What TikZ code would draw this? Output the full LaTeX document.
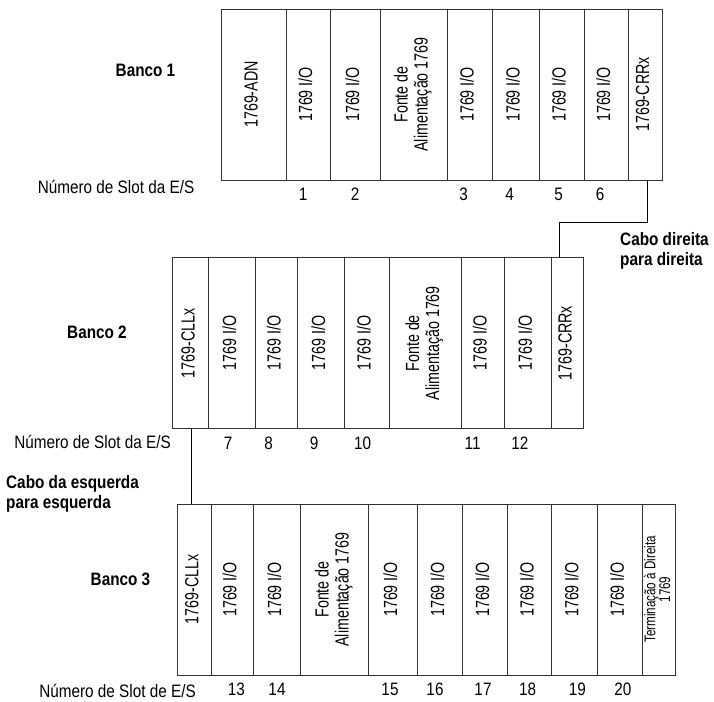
\documentclass[tikz,border=0pt]{standalone}
\usepackage{fontspec}
\setmainfont{Liberation Sans}[FakeStretch=0.85]
\newfontfamily\narrowfam{Liberation Sans}[FakeStretch=0.75]
\usepackage{tikz}
\usetikzlibrary{positioning}

\newcommand{\modfont}{\narrowfam\fontsize{19}{20}\selectfont}
\newcommand{\termfont}{\narrowfam\fontsize{15.5}{13}\selectfont}
\newcommand{\numfont}{\fontsize{18}{20}\selectfont}
\newcommand{\labfont}{\fontsize{18}{20}\selectfont}
\newcommand{\vlab}[1]{\rotatebox{90}{\begin{tabular}{@{}c@{}}#1\end{tabular}}}

\begin{document}
\begin{tikzpicture}[x=1pt,y=1pt,
    module/.style={draw=black!80,line width=0.8pt,minimum width=#1,minimum height=171pt,inner sep=0pt,outer sep=0pt,font=\modfont},
    slotno/.style={font=\numfont,inner sep=0pt,label distance=8pt,xshift=#1},
    slotno/.default=0pt,
    banklab/.style={font=\labfont\bfseries,inner sep=0pt},
    slotlab/.style={font=\labfont,inner sep=0pt},
    cablab/.style={font=\labfont\bfseries,align=left,anchor=west,inner sep=0pt},
    cable/.style={draw=black,line width=1pt}
  ]
    \useasboundingbox (0,0) rectangle (714,701);

    % Banco 1
    \node[module=65pt,anchor=north west] (adn) at (221,692) {\vlab{1769-ADN}};
    \node[module=44pt,right=0pt of adn,label={[slotno=-5pt]below:1}] (io1) {\vlab{1769 I/O}};
    \node[module=50pt,right=0pt of io1,label={[slotno]below:2}] (io2) {\vlab{1769 I/O}};
    \node[module=67pt,right=0pt of io2] (ps1) {\vlab{Fonte de\\Alimentação 1769}};
    \node[module=45pt,right=0pt of ps1,label={[slotno=-6pt]below:3}] (io3) {\vlab{1769 I/O}};
    \node[module=47pt,right=0pt of io3,label={[slotno=-6pt]below:4}] (io4) {\vlab{1769 I/O}};
    \node[module=45pt,right=0pt of io4,label={[slotno=-3pt]below:5}] (io5) {\vlab{1769 I/O}};
    \node[module=44pt,right=0pt of io5,label={[slotno=-6pt]below:6}] (io6) {\vlab{1769 I/O}};
    \node[module=34pt,right=0pt of io6] (crr1) {\vlab{1769-CRRx}};
    \node[banklab] (bank1) at (145.5,631) {Banco 1};
    \node[slotlab] (slot1) at (116,514) {Número de Slot da E/S};

    % Banco 2
    \node[module=36.4pt,anchor=north west] (cll2) at (172.3,443.3) {\vlab{1769-CLLx}};
    \node[module=47pt,right=0pt of cll2,label={[slotno=-4pt]below:7}] (io7) {\vlab{1769 I/O}};
    \node[module=42pt,right=0pt of io7,label={[slotno=-8pt]below:8}] (io8) {\vlab{1769 I/O}};
    \node[module=46.6pt,right=0pt of io8,label={[slotno=-7pt]below:9}] (io9) {\vlab{1769 I/O}};
    \node[module=44.7pt,right=0pt of io9,label={[slotno=-4pt]below:10}] (io10) {\vlab{1769 I/O}};
    \node[module=72pt,right=0pt of io10] (ps2) {\vlab{Fonte de\\Alimentação 1769}};
    \node[module=43.3pt,right=0pt of ps2,label={[slotno=-10pt]below:11}] (io11) {\vlab{1769 I/O}};
    \node[module=47pt,right=0pt of io11,label={[slotno=-8pt]below:12}] (io12) {\vlab{1769 I/O}};
    \node[module=32.4pt,right=0pt of io12] (crr2) {\vlab{1769-CRRx}};
    \node[banklab] (bank2) at (97,369) {Banco 2};
    \node[slotlab] (slot2) at (92.5,259) {Número de Slot da E/S};

    % Banco 3
    \node[module=34pt,anchor=north west] (cll3) at (177.3,197) {\vlab{1769-CLLx}};
    \node[module=42pt,right=0pt of cll3,label={[slotno=4pt]below:13}] (io13) {\vlab{1769 I/O}};
    \node[module=47.4pt,right=0pt of io13,label={[slotno]below:14}] (io14) {\vlab{1769 I/O}};
    \node[module=67.6pt,right=0pt of io14] (ps3) {\vlab{Fonte de\\Alimentação 1769}};
    \node[module=49.4pt,right=0pt of ps3,label={[slotno=-3pt]below:15}] (io15) {\vlab{1769 I/O}};
    \node[module=44.6pt,right=0pt of io15,label={[slotno=-5pt]below:16}] (io16) {\vlab{1769 I/O}};
    \node[module=45.4pt,right=0pt of io16,label={[slotno=-2pt]below:17}] (io17) {\vlab{1769 I/O}};
    \node[module=44pt,right=0pt of io17,label={[slotno=-2pt]below:18}] (io18) {\vlab{1769 I/O}};
    \node[module=45.3pt,right=0pt of io18,label={[slotno=3pt]below:19}] (io19) {\vlab{1769 I/O}};
    \node[module=45.7pt,right=0pt of io19,label={[slotno=3pt]below:20}] (io20) {\vlab{1769 I/O}};
    \node[module=32.6pt,right=0pt of io20,font=\termfont] (term) {\vlab{Terminação à Direita\\1769}};
    \node[banklab] (bank3) at (120.5,122) {Banco 3};
    \node[slotlab] (slot3) at (117.5,10) {Número de Slot de E/S};

    % cabos
    \node[cablab] (cabright) at (620,450) {Cabo direita\\para direita};
    \node[cablab] (cableft) at (6,207.5) {Cabo da esquerda\\para esquerda};
    \draw[cable] ([xshift=2pt]crr1.south) -- ++(0,-43) -| ([xshift=-8pt]crr2.north);
    \draw[cable] ([xshift=1.2pt]cll2.south) -- ([xshift=1.2pt]cll2.south |- cll3.north);
\end{tikzpicture}
\end{document}
